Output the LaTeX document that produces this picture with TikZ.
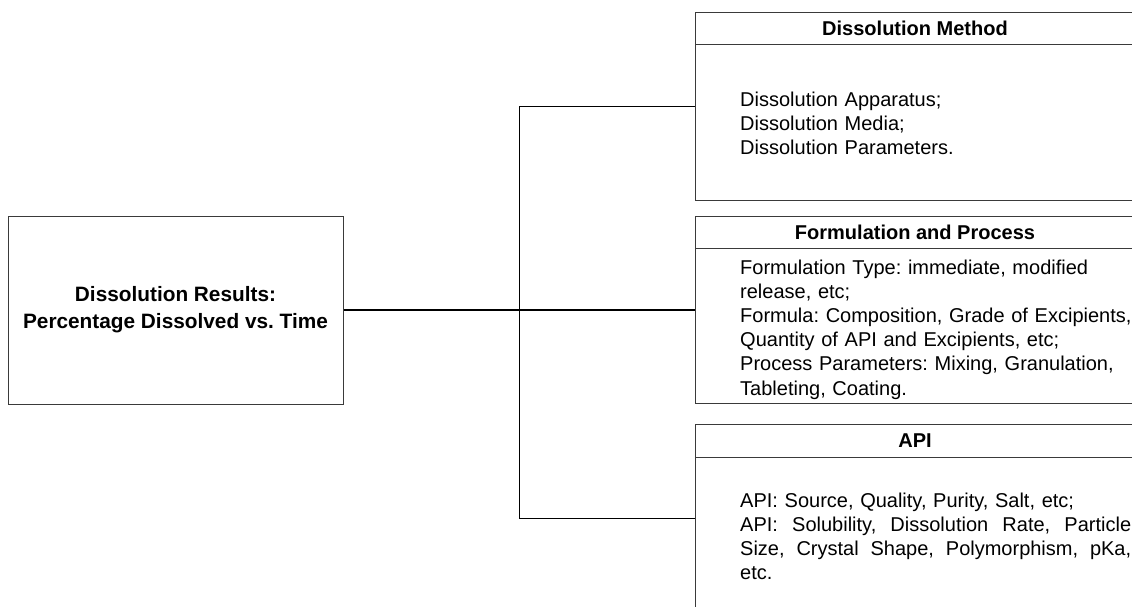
\documentclass[tikz,border=0pt]{standalone}
\usepackage{fontspec}
\setmainfont{Liberation Sans}
\usetikzlibrary{fit}
\frenchspacing
\hyphenpenalty=10000
\definecolor{boxline}{HTML}{3A3A3A}
\newcommand{\justline}[1]{\leavevmode\hbox to 391pt{#1}}
\tikzset{
  boxshape/.style={draw=boxline, line width=1pt, fill=white, inner sep=0pt, anchor=north west, minimum width=439pt},
  headtext/.style={font=\fontsize{20}{24}\selectfont\bfseries, inner sep=0pt},
  bodytext/.style={inner sep=0pt, anchor=base west, text width=405pt, align=left, font=\fontsize{20}{24.2}\selectfont},
  conn/.style={draw=black, line width=1.3pt},
  group/.style={inner sep=0pt},
}
\begin{document}
\begin{tikzpicture}[x=1pt,y=-1pt]
\useasboundingbox (0,0) rectangle (1132,606);
\clip (0,0) rectangle (1132,606);
% left box
\node[draw=boxline, line width=1pt, minimum width=335pt, minimum height=188pt, inner sep=0pt,
      align=center, font=\fontsize{20.8}{26.7}\selectfont\bfseries] (res) at (175.5,310)
      {Dissolution Results:\\Percentage Dissolved vs. Time};
% box 1
\node[boxshape, minimum height=32pt] (h1) at (695,12) {};
\node[boxshape, minimum height=156pt] (b1) at (695,44) {};
\node[headtext] (t1) at (h1.center) {Dissolution Method};
\node[bodytext] (x1) at (740,106)
  {Dissolution Apparatus;\\Dissolution Media;\\Dissolution Parameters.};
\node[group, fit=(h1)(b1)] (g1) {};
% box 2
\node[boxshape, minimum height=32pt] (h2) at (695,216) {};
\node[boxshape, minimum height=155pt] (b2) at (695,248) {};
\node[headtext] (t2) at (h2.center) {Formulation and Process};
\node[bodytext] (x2) at (740,274)
  {Formulation Type: immediate, modified\\release, etc;\\Formula: Composition, Grade of Excipients,\\Quantity of API and Excipients, etc;\\Process Parameters: Mixing, Granulation,\\Tableting, Coating.};
\node[group, fit=(h2)(b2)] (g2) {};
% box 3
\node[boxshape, minimum height=33pt] (h3) at (695,424) {};
\node[boxshape, minimum height=155pt] (b3) at (695,457) {};
\node[headtext] (t3) at (h3.center) {API};
\node[bodytext] (x3) at (740,507)
  {API: Source, Quality, Purity, Salt, etc;\\
   \justline{API:\hfill Solubility,\hfill Dissolution\hfill Rate,\hfill Particle}\\
   \justline{Size,\hfill Crystal\hfill Shape,\hfill Polymorphism,\hfill pKa,}\\
   etc.};
\node[group, fit=(h3)(b3)] (g3) {};
% connectors
\draw[conn] (res.east) -- (g2.west);
\draw[conn] (g1.west) -- ++(-175,0) coordinate (bustop) |- (g3.west);
\end{tikzpicture}
\end{document}
